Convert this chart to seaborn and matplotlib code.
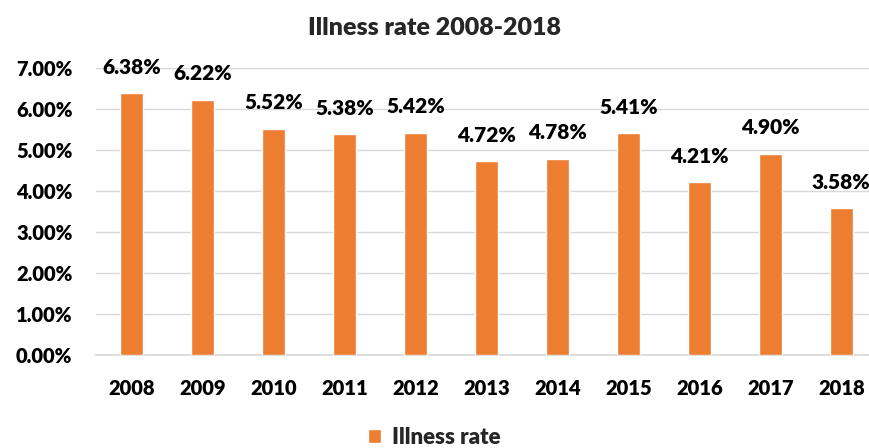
import matplotlib
matplotlib.use("Agg")
import matplotlib.pyplot as plt
import seaborn as sns
import pandas as pd
from matplotlib.ticker import PercentFormatter

years = ["2008", "2009", "2010", "2011", "2012", "2013", "2014", "2015", "2016", "2017", "2018"]
rates = [6.38, 6.22, 5.52, 5.38, 5.42, 4.72, 4.78, 5.41, 4.21, 4.90, 3.58]

df = pd.DataFrame({"year": years, "rate": rates})

sns.set_theme(style="white")
plt.rcParams["font.family"] = ["Lato", "DejaVu Sans"]

bar_color = "#ED7D31"
wt = "heavy"
fs = 14.5

fig = plt.figure(figsize=(8.69, 4.48), dpi=100)
ax = fig.add_axes([96 / 869, 93 / 448, (869 - 96) / 869, 287 / 448])

sns.barplot(data=df, x="year", y="rate", color=bar_color, width=0.32,
            saturation=1, ax=ax, label="Illness rate", zorder=3)

ax.set_ylim(0, 7)
ax.set_xlim(-0.5, 10.39)
ax.set_yticks([0, 1, 2, 3, 4, 5, 6, 7])
ax.yaxis.set_major_formatter(PercentFormatter(decimals=2))
ax.grid(axis="y", color="#d9d9d9", linewidth=1, zorder=0)
ax.tick_params(axis="x", length=0, labelsize=fs, pad=17)
ax.tick_params(axis="y", length=0, labelsize=fs, pad=17)
for lbl in ax.get_xticklabels() + ax.get_yticklabels():
    lbl.set_fontweight(wt)
    lbl.set_color("black")
ax.set_xlabel("")
ax.set_ylabel("")
for side in ["top", "right", "left"]:
    ax.spines[side].set_visible(False)
ax.spines["bottom"].set_color("#d9d9d9")

for i, v in enumerate(rates):
    ax.annotate(f"{v:.2f}%", (i, v), xytext=(0, 12), textcoords="offset points",
                ha="center", va="bottom", fontsize=15, fontweight=wt,
                color="black", clip_on=False)

fig.text(0.5, 1 - 28 / 448, "Illness rate 2008-2018", ha="center", va="center",
         fontsize=18, fontweight=wt)

leg = ax.legend(loc="center", bbox_to_anchor=(0.5, 1 - 437 / 448), bbox_transform=fig.transFigure,
                frameon=False, prop={"weight": wt, "size": 16},
                handlelength=0.6, handleheight=0.6, handletextpad=0.5)

fig.savefig("out.png", dpi=100)
